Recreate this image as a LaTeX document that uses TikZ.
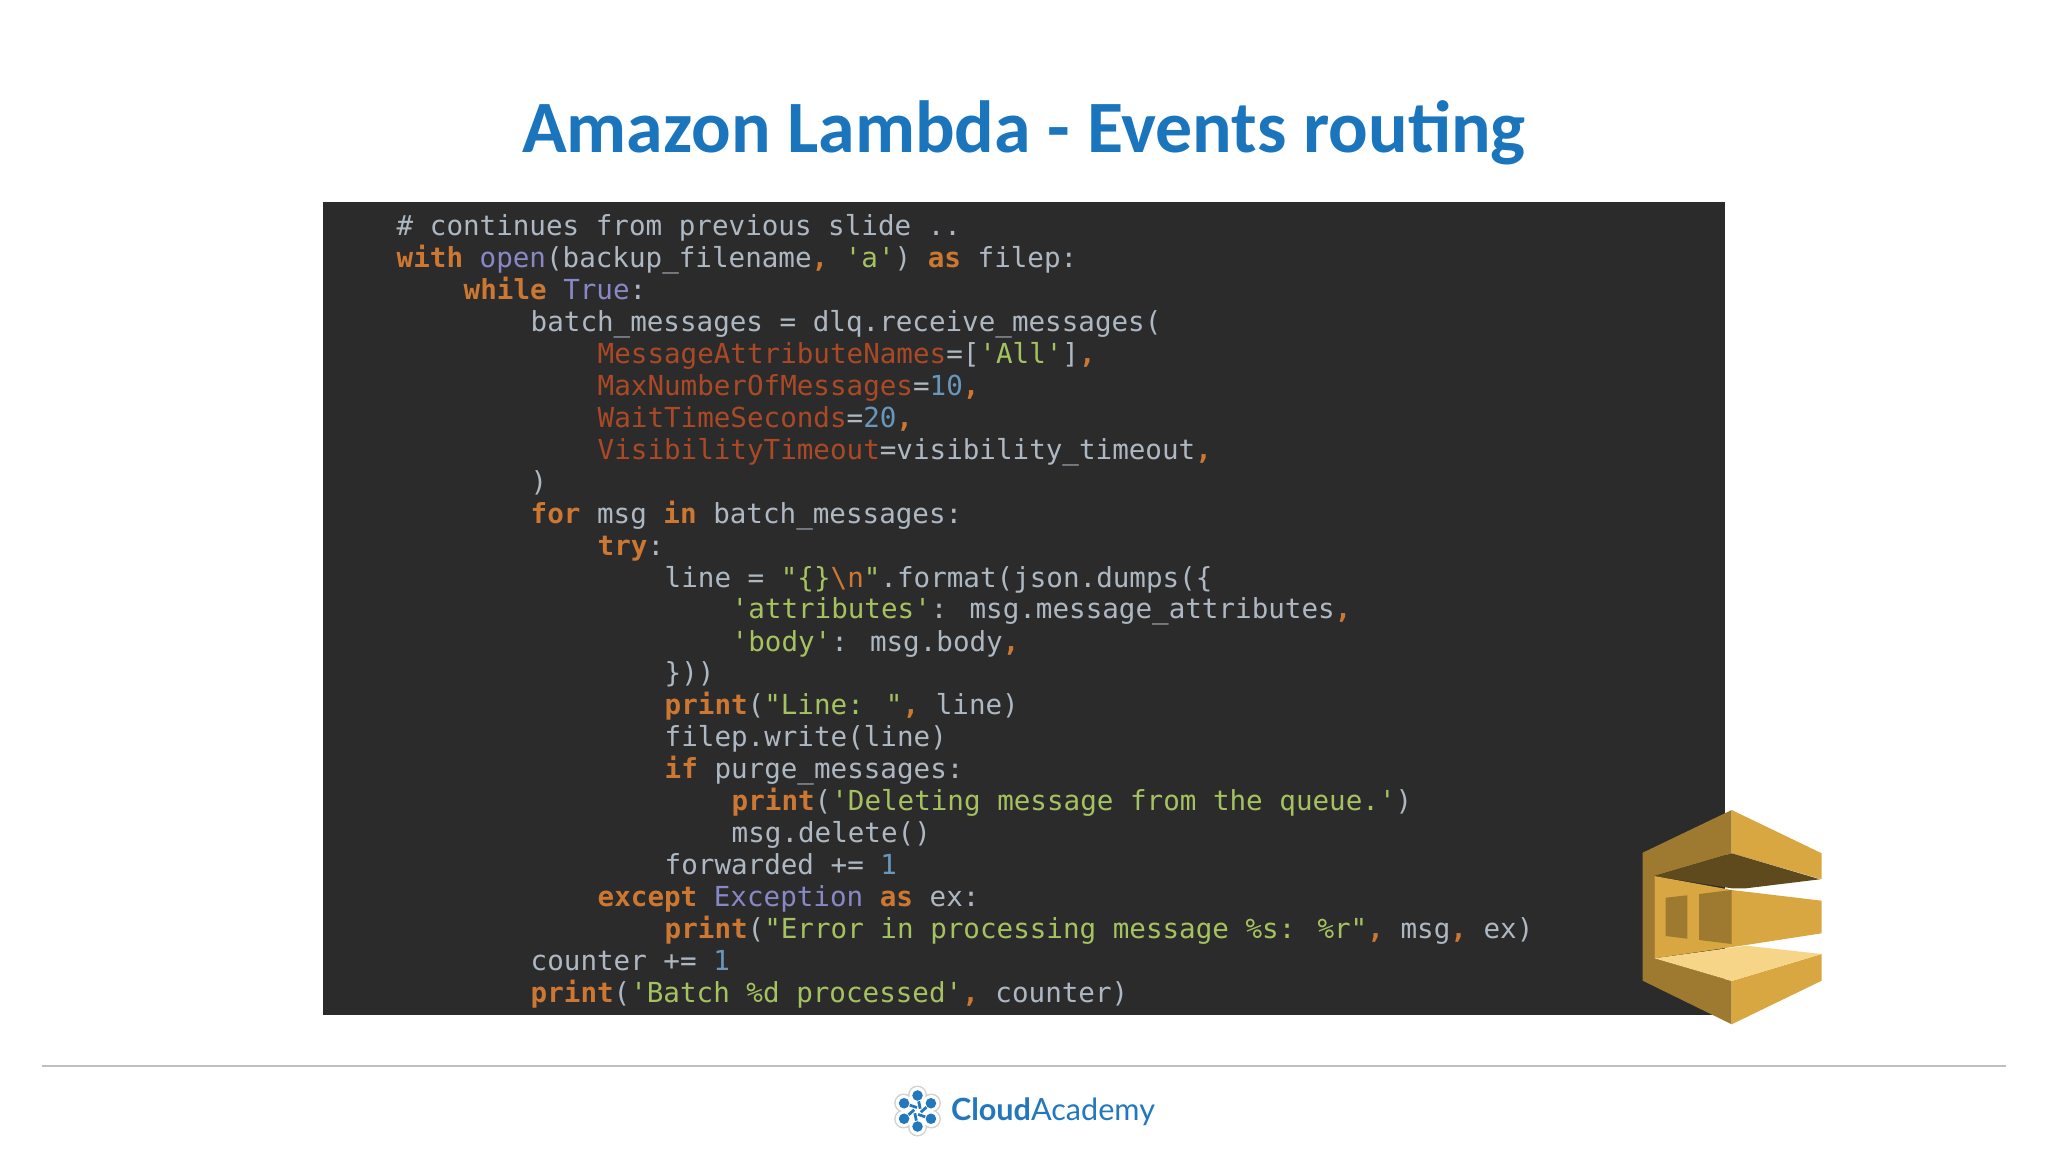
\documentclass[tikz,border=0pt]{standalone}
\usepackage{fontspec}
\usetikzlibrary{positioning}
\setmainfont{Carlito}
\newfontfamily\codefont{DejaVu Sans Mono}
\newfontfamily\logofont{Lato}
\definecolor{codebg}{HTML}{2B2B2B}
\definecolor{codetext}{HTML}{AEB8C2}
\definecolor{codekey}{HTML}{CC7832}
\definecolor{codestr}{HTML}{A5C261}
\definecolor{codenum}{HTML}{6897BB}
\definecolor{codebuilt}{HTML}{8888C6}
\definecolor{codearg}{HTML}{AA4926}
\definecolor{titleblue}{HTML}{1A75BC}
\definecolor{logoblue}{HTML}{2277BD}
\definecolor{goldmid}{HTML}{D9A741}
\definecolor{golddark}{HTML}{9D7A30}
\definecolor{goldshade}{HTML}{5F4A1E}
\definecolor{goldlight}{HTML}{F6D488}
\newcommand{\ky}[1]{\textcolor{codekey}{\textbf{#1}}}
\newcommand{\st}[1]{\textcolor{codestr}{#1}}
\newcommand{\nm}[1]{\textcolor{codenum}{#1}}
\newcommand{\bt}[1]{\textcolor{codebuilt}{#1}}
\newcommand{\ar}[1]{\textcolor{codearg}{#1}}
\begin{document}
\begin{tikzpicture}[x=0.01cm, y=-0.01cm]
        \tikzstyle{codeline}=[anchor=base west, inner sep=0pt, text=codetext, font=\codefont\fontsize{7.84pt}{9pt}\selectfont]
        \tikzstyle{logodot}=[circle, fill=logoblue, inner sep=0pt, minimum size=3pt]

        \useasboundingbox (0,0) rectangle (2048,1152);

        % Title
        \node[text=titleblue, font=\fontsize{21pt}{24pt}\selectfont\bfseries] (title) at (1024,133) {Amazon Lambda - Events routing};

        % Code panel
        \fill[codebg] (323,202.5) rectangle (1724.5,1014.5);

        % Code lines
        \node[codeline] (l1) at (396,235.6) {\# continues from previous slide ..};
        \node[codeline] (l2) at (396,267.6) {\ky{with} \bt{open}(backup\_filename\ky{,} \st{'a'}) \ky{as} filep:};
        \node[codeline] (l3) at (463,299.5) {\ky{while} \bt{True}:};
        \node[codeline] (l4) at (530,331.5) {batch\_messages = dlq.receive\_messages(};
        \node[codeline] (l5) at (597,363.4) {\ar{MessageAttributeNames}=[\st{'All'}]\ky{,}};
        \node[codeline] (l6) at (597,395.4) {\ar{MaxNumberOfMessages}=\nm{10}\ky{,}};
        \node[codeline] (l7) at (597,427.3) {\ar{WaitTimeSeconds}=\nm{20}\ky{,}};
        \node[codeline] (l8) at (597,459.3) {\ar{VisibilityTimeout}=visibility\_timeout\ky{,}};
        \node[codeline] (l9) at (530,491.2) {)};
        \node[codeline] (l10) at (530,523.2) {\ky{for} msg \ky{in} batch\_messages:};
        \node[codeline] (l11) at (597,555.1) {\ky{try}:};
        \node[codeline] (l12) at (664,587.1) {line = \st{"\{\}}\textcolor{codekey}{\textbackslash n}\st{"}.format(json.dumps(\{};
        \node[codeline] (l13) at (731,619) {\st{'attributes'}: msg.message\_attributes\ky{,}};
        \node[codeline] (l14) at (731,651) {\st{'body'}: msg.body\ky{,}};
        \node[codeline] (l15) at (664,682.9) {\}))};
        \node[codeline] (l16) at (664,714.9) {\ky{print}(\st{"Line: "}\ky{,} line)};
        \node[codeline] (l17) at (664,746.8) {filep.write(line)};
        \node[codeline] (l18) at (664,778.8) {\ky{if} purge\_messages:};
        \node[codeline] (l19) at (731,810.7) {\ky{print}(\st{'Deleting message from the queue.'})};
        \node[codeline] (l20) at (731,842.7) {msg.delete()};
        \node[codeline] (l21) at (664,874.6) {forwarded += \nm{1}};
        \node[codeline] (l22) at (597,906.6) {\ky{except} \bt{Exception} \ky{as} ex:};
        \node[codeline] (l23) at (664,938.5) {\ky{print}(\st{"Error in processing message \%s: \%r"}\ky{,} msg\ky{,} ex)};
        \node[codeline] (l24) at (530,970.5) {counter += \nm{1}};
        \node[codeline] (l25) at (530,1002.4) {\ky{print}(\st{'Batch \%d processed'}\ky{,} counter)};

        % Queue icon
        \fill[golddark] (1642.7,852.7) -- (1731.7,810) -- (1731.7,853.3) -- (1654.3,876) -- (1654.3,958.3) -- (1731.7,981) -- (1731.7,1024.3) -- (1642.7,980.7) -- cycle;
        \fill[goldmid] (1731.7,810) -- (1821.7,853.3) -- (1821.7,879.3) -- (1731.7,853.3) -- cycle;
        \fill[goldmid] (1731.7,981) -- (1821.7,954) -- (1821.7,980.7) -- (1731.7,1024.3) -- cycle;
        \fill[goldshade] (1654.3,876) -- (1731.7,853.3) -- (1820,879.3) -- (1746,888.3) -- (1731.7,888.3) -- cycle;
        \fill[goldmid] (1654.3,876) -- (1731.7,890) -- (1746,891.7) -- (1821.7,900.7) -- (1821.7,933.3) -- (1746,945) -- (1654.3,958.3) -- cycle;
        \fill[goldlight] (1654.3,958.3) -- (1746,945.7) -- (1821.7,954) -- (1731.7,981) -- cycle;
        \fill[golddark] (1665.7,897.7) -- (1687.3,895.3) -- (1687.3,938.7) -- (1665.7,936) -- cycle;
        \fill[golddark] (1699,894) -- (1731.7,890) -- (1731.7,944) -- (1699,940) -- cycle;

        % Footer
        \draw[gray!50, line width=0.4pt] (42,1066) -- (2006,1066);
        \node[inner sep=0pt, text=logoblue, font=\logofont\fontsize{8.7pt}{10pt}\selectfont] (brand) at (1053,1112) {\textbf{Cloud}Academy};

        % Logo
        \coordinate (hub) at (917.5,1111);
        \foreach \a in {30,90,150,210,270,330} {
            \fill[gray!35] (hub) ++(\a:16) circle (9.5);
        }
        \fill[white] (hub) circle (16);
        \foreach \a in {30,90,150,210,270,330} {
            \fill[white] (hub) ++(\a:16) circle (8);
        }
        \foreach \a in {30,90,150,210,270,330} {
            \node[logodot] (dot\a) at ([shift={(\a:15.5)}]hub) {};
            \draw[logoblue, line width=0.8pt] ([shift={(\a+50:3.5)}]hub) -- (dot\a);
        }
\end{tikzpicture}
\end{document}
